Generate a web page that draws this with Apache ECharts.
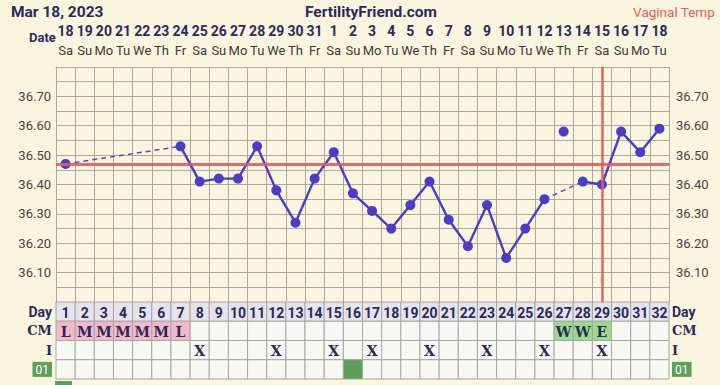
<!DOCTYPE html>
<html>
<head>
<meta charset="utf-8">
<script src="https://cdn.jsdelivr.net/npm/echarts@6/dist/echarts.min.js"></script>
<style>
html,body{margin:0;padding:0;background:#faf5de;}
#chart{width:720px;height:385px;}
</style>
</head>
<body>
<div id="chart"></div>
<script>
// ---- data ----
const cycleDays = ['1','2','3','4','5','6','7','8','9','10','11','12','13','14','15','16','17','18','19','20','21','22','23','24','25','26','27','28','29','30','31','32'];
const dates = ['18','19','20','21','22','23','24','25','26','27','28','29','30','31','1','2','3','4','5','6','7','8','9','10','11','12','13','14','15','16','17','18'];
const weekdays = ['Sa','Su','Mo','Tu','We','Th','Fr','Sa','Su','Mo','Tu','We','Th','Fr','Sa','Su','Mo','Tu','We','Th','Fr','Sa','Su','Mo','Tu','We','Th','Fr','Sa','Su','Mo','Tu'];
const temps = [36.47,null,null,null,null,null,36.53,36.41,36.42,36.42,36.53,36.38,36.27,36.42,36.51,36.37,36.31,36.25,36.33,36.41,36.28,36.19,36.33,36.15,36.25,36.35,36.58,36.41,36.40,36.58,36.51,36.59];
const discardedDays = [27];
const coverline = 36.47;
const ovulationDay = 29;
const cervicalMucus = ['L','M','M','M','M','M','L','','','','','','','','','','','','','','','','','','','','W','W','E','','',''];
const intercourseDays = [8,12,15,17,20,23,26,29];
const customDays = [16];
const tableRows = ['Day','CM','I','01'];
const headerLeft = 'Mar 18, 2023';
const headerCenter = 'FertilityFriend.com';
const headerRight = 'Vaginal Temp';

// ---- styling constants ----
const NAVY = '#2b2a5c';
const BG = '#faf5de';
const GRIDC = '#aaa99f';
const LINEC = '#4a3cc6';
const REDC = '#e05c5c';

// ---- build series ----
const n = temps.length;
const solid = temps.map((t, i) => (t == null || discardedDays.includes(i + 1)) ? null : t);
const discarded = temps.map((t, i) => discardedDays.includes(i + 1) ? t : null);
const validIdx = [];
solid.forEach((t, i) => { if (t != null) validIdx.push(i); });
const dashedSeries = [];
for (let k = 1; k < validIdx.length; k++) {
  const a = validIdx[k - 1], b = validIdx[k];
  if (b - a > 1) {
    const d = new Array(n).fill(null);
    d[a] = solid[a]; d[b] = solid[b];
    dashedSeries.push({
      type: 'line', data: d, connectNulls: true, showSymbol: false,
      xAxisIndex: 0, yAxisIndex: 0, silent: true,
      lineStyle: { color: '#5548c0', width: 1.5, type: [5, 4] }, z: 3
    });
  }
}

// table cells
const cells = [];
for (let c = 0; c < n; c++) {
  cells.push({ c, r: 0, text: cycleDays[c], kind: 'day' });
  const cm = cervicalMucus[c];
  cells.push({ c, r: 1, text: cm, kind: cm ? (cm === 'W' || cm === 'E' ? 'green' : 'pink') : 'plain' });
  cells.push({ c, r: 2, text: intercourseDays.includes(c + 1) ? 'X' : '', kind: 'plain' });
  cells.push({ c, r: 3, text: '', kind: customDays.includes(c + 1) ? 'dark' : 'plain' });
}
const fills = { day: '#e5e4ea', pink: '#f5b8ca', green: '#9bdc8c', plain: '#f8f8f3', dark: '#5f9f5c' };

const chart = echarts.init(document.getElementById('chart'), null, { renderer: 'svg' });

const rowLabelRich = {
  day: { fontFamily: 'Roboto', fontWeight: 'bold', fontSize: 14, color: NAVY },
  s: { fontFamily: 'DejaVu Serif', fontWeight: 'bold', fontSize: 13, color: NAVY },
  b: { fontFamily: 'Roboto', fontSize: 12, color: '#ffffff', backgroundColor: '#5f9f5c', padding: [2, 3, 1, 3] }
};
const rowFmt = v => v === 'Day' ? '{day|Day}' : (v === '01' ? '{b|01}' : '{s|' + v + '}');
const tempFmt = v => { const h = Math.round(v * 100); return (h % 10 === 0 && h > 3600 && h < 3680) ? v.toFixed(2) : ''; };

chart.setOption({
  backgroundColor: BG,
  animation: false,
  title: [
    { text: headerLeft, left: 6, top: -1, textStyle: { fontFamily: 'Roboto', fontWeight: 'bold', fontSize: 15.5, color: NAVY } },
    { text: headerCenter, left: 300, top: -1, textStyle: { fontFamily: 'Roboto', fontWeight: 'bold', fontSize: 15.5, color: NAVY } },
    { text: headerRight, right: 0, top: 0, textStyle: { fontFamily: 'Roboto', fontWeight: 'normal', fontSize: 13.5, color: '#e0605c' } },
    { text: 'Date', left: 24, top: 26, textStyle: { fontFamily: 'Roboto', fontWeight: 'bold', fontSize: 13, color: NAVY } }
  ],
  grid: [
    { left: 56, right: 51, top: 67, height: 235 },
    { left: 56, right: 51, top: 302, height: 77 }
  ],
  xAxis: [
    { type: 'category', gridIndex: 0, data: cycleDays, boundaryGap: true, position: 'bottom',
      axisLine: { show: true, lineStyle: { color: GRIDC } }, axisTick: { show: false }, axisLabel: { show: false },
      splitLine: { show: true, interval: 0, lineStyle: { color: GRIDC, width: 1 } } },
    { type: 'category', gridIndex: 0, data: weekdays, boundaryGap: true, position: 'top',
      axisLine: { show: true, lineStyle: { color: GRIDC } }, axisTick: { show: false },
      axisLabel: { show: true, interval: 0, margin: 10, fontFamily: 'Roboto', fontSize: 13, color: '#3a3a3a' } },
    { type: 'category', gridIndex: 1, data: cycleDays, boundaryGap: true,
      axisLine: { show: false }, axisTick: { show: false }, axisLabel: { show: false }, splitLine: { show: false } },
    { type: 'category', gridIndex: 0, data: dates, boundaryGap: true, position: 'top', offset: 19,
      axisLine: { show: false }, axisTick: { show: false },
      axisLabel: { show: true, interval: 0, margin: 10, fontFamily: 'Roboto', fontWeight: 'bold', fontSize: 14, color: NAVY } }
  ],
  yAxis: [
    { type: 'value', gridIndex: 0, min: 36.0, max: 36.8, interval: 0.05, position: 'left',
      axisLine: { show: true, lineStyle: { color: GRIDC } }, axisTick: { show: false },
      splitLine: { show: true, lineStyle: { color: GRIDC, width: 1 } },
      axisLabel: { margin: 5, fontFamily: 'Roboto', fontSize: 13, color: '#444', formatter: tempFmt } },
    { type: 'value', gridIndex: 0, min: 36.0, max: 36.8, interval: 0.05, position: 'right',
      axisLine: { show: true, lineStyle: { color: GRIDC } }, axisTick: { show: false }, splitLine: { show: false },
      axisLabel: { margin: 7, fontFamily: 'Roboto', fontSize: 13, color: '#444', formatter: tempFmt } },
    { type: 'category', gridIndex: 1, data: tableRows, inverse: true, position: 'left',
      axisLine: { show: false }, axisTick: { show: false }, splitLine: { show: false },
      axisLabel: { margin: 4, formatter: rowFmt, rich: rowLabelRich } },
    { type: 'category', gridIndex: 1, data: tableRows, inverse: true, position: 'right',
      axisLine: { show: false }, axisTick: { show: false }, splitLine: { show: false },
      axisLabel: { margin: 3, formatter: rowFmt, rich: rowLabelRich } }
  ],
  series: [
    { type: 'line', data: solid, xAxisIndex: 0, yAxisIndex: 0, connectNulls: false,
      showSymbol: true, showAllSymbol: true, symbol: 'circle', symbolSize: 10,
      itemStyle: { color: LINEC }, lineStyle: { color: LINEC, width: 2.4 }, z: 4,
      markLine: { silent: true, symbol: 'none', label: { show: false }, animation: false,
        data: [
          { yAxis: coverline, lineStyle: { color: REDC, width: 3, type: 'solid', opacity: 0.9 } },
          { xAxis: ovulationDay - 1, lineStyle: { color: REDC, width: 2.5, type: 'solid', opacity: 0.95 } }
        ] } },
    ...dashedSeries,
    { type: 'scatter', data: discarded, xAxisIndex: 0, yAxisIndex: 0, symbol: 'circle', symbolSize: 10,
      itemStyle: { color: LINEC, opacity: 1 }, z: 4 },
    { type: 'custom', xAxisIndex: 2, yAxisIndex: 2, data: cells.map(cl => [cl.c, cl.r]),
      renderItem: (params, api) => {
        const cl = cells[params.dataIndex];
        const p = api.coord([api.value(0), api.value(1)]);
        const s = api.size([1, 1]);
        const isSerif = cl.r === 1 || cl.r === 2;
        return {
          type: 'group',
          children: [
            { type: 'rect', shape: { x: p[0] - s[0] / 2, y: p[1] - s[1] / 2, width: s[0], height: s[1] },
              style: { fill: fills[cl.kind], stroke: '#a6a6a6', lineWidth: 1 } },
            { type: 'text', style: { text: cl.text, x: p[0], y: p[1] + 1, align: 'center', verticalAlign: 'middle',
              fill: NAVY, fontFamily: isSerif ? 'DejaVu Serif' : 'Roboto', fontWeight: 'bold', fontSize: isSerif ? 14 : 14 } }
          ]
        };
      } }
  ],
  graphic: [
    { type: 'rect', shape: { x: 55, y: 381, width: 17, height: 4 }, style: { fill: '#5f9f5c' } }
  ]
});
</script>
</body>
</html>
